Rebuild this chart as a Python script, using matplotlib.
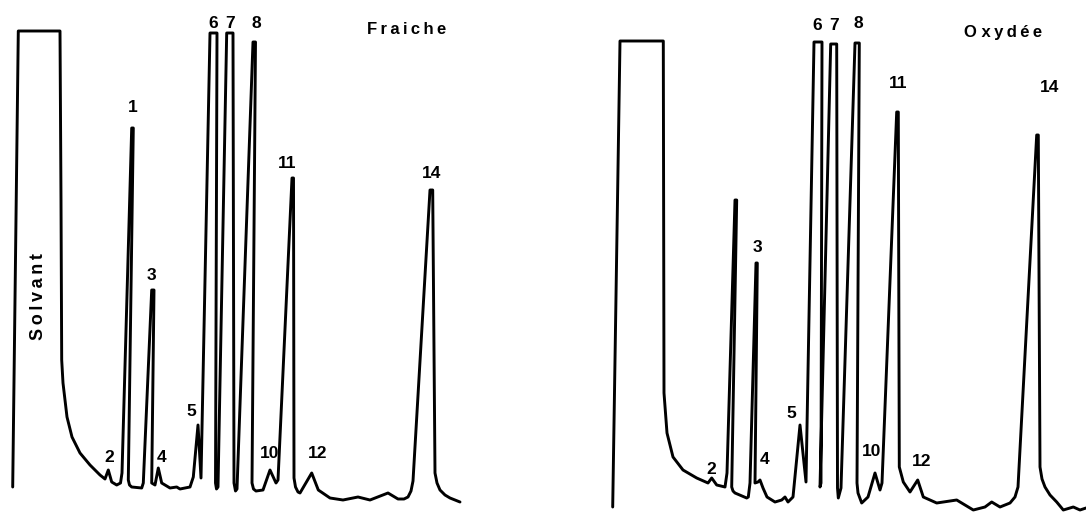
import matplotlib
matplotlib.use("Agg")
import matplotlib.pyplot as plt

# Chromatogram traces: retention position, detector response
fresh_t = [12.7, 18.3, 60, 61, 61.7, 63, 67, 72, 80, 90, 100, 105, 108.3, 111.7,
           116.7, 120.5, 122, 131.7, 133.3, 128.3, 129.5, 131.7, 141.7, 143.3, 151.7, 154,
           151.7, 155, 158.3, 161.7, 170, 176.7, 180, 190, 193.3, 198, 201,
           210, 217, 215.5, 216.5, 218, 226.7, 233, 234, 235.5, 237, 253, 255.5, 252, 253.5, 256, 263,
           270, 276, 278, 292, 293.5, 294, 295.5, 298, 300, 311.7, 318.3, 330, 343,
           358, 370, 388, 398, 404, 408, 411, 413, 430, 432.7, 435, 437, 440, 445, 450, 460]
fresh_r = [26, 482, 482, 313, 153, 130, 96, 76, 60, 48, 38, 34, 43, 31,
           28, 30, 40, 385, 385, 33, 28, 26, 25, 30, 223, 223,
           30, 28, 45, 30, 25, 26, 24, 26, 36, 88, 35,
           480, 480, 30, 24, 26, 480, 480, 30, 22, 24, 471, 471, 30, 24, 22, 23,
           43, 30, 33, 335, 335, 35, 26, 21, 20, 40, 23, 15, 13,
           16, 13, 20, 14, 14, 16, 22, 32, 323, 323, 40, 30, 23, 18, 15, 11]

oxid_t = [612.7, 620, 663.3, 664, 667, 673, 683, 696.7, 708, 711.7, 716.7, 725,
          727, 735, 736.7, 731.7, 733, 735, 746.7, 748.3, 750, 756, 757.3, 755, 758, 760, 763,
          767, 775, 781.7, 785, 788, 793, 800, 806, 814, 822, 821, 820,
          830.7, 836.7, 837.5, 838.3, 841, 855, 859.3, 857, 858, 861.7, 868, 875, 880, 882,
          896.7, 898.3, 899.3, 903.3, 910, 917.7, 923.3, 936.7, 956.7, 973.3,
          985, 991.7, 1000, 1010, 1015, 1018, 1036.7, 1038.3, 1040, 1042, 1045, 1050, 1056.7, 1063.3,
          1073.3, 1080, 1086]
oxid_r = [6, 472, 472, 120, 80, 56, 43, 35, 30, 35, 28, 26,
          40, 313, 313, 26, 22, 20, 15, 16, 30, 250, 250, 30, 31, 33, 25,
          16, 11, 13, 16, 11, 16, 88, 31, 471, 471, 30, 26,
          469, 469, 25, 15, 25, 470, 470, 30, 20, 10, 16, 40, 23, 30,
          401, 401, 46, 31, 21, 33, 16, 10, 13, 3,
          6, 11, 6, 10, 16, 26, 378, 378, 46, 34, 26, 18, 11, 3,
          6, 3, 5]

# peak numbers and where they are written
fresh_labels = ["1", "2", "3", "4", "5", "6", "7", "8", "10", "11", "12", "14"]
fresh_lab_t = [133, 109.3, 151.7, 161.7, 191.7, 213.3, 230, 256, 270, 287.3, 317.3, 431.7]
fresh_lab_r = [405, 56, 237, 56, 101, 490, 490, 490, 60, 350, 60, 340]

oxid_labels = ["2", "3", "4", "5", "6", "7", "8", "10", "11", "12", "14"]
oxid_lab_t = [711.7, 757.7, 765, 791.7, 816.7, 834, 858.3, 871.7, 898.3, 921.7, 1050]
oxid_lab_r = [43, 265, 53, 100, 488, 488, 489, 61, 430, 51, 425]

fams = ["Liberation Sans", "DejaVu Sans"]
sp = "\u2009"

fig = plt.figure(figsize=(10.86, 5.13), dpi=100)
ax1 = fig.add_axes([0, 0, 0.5, 1])
ax2 = fig.add_axes([0.5, 0, 0.5, 1])

for ax, t, r, lo, hi in [(ax1, fresh_t, fresh_r, 0, 543), (ax2, oxid_t, oxid_r, 543, 1086)]:
    ax.plot(t, r, color="black", lw=2.1, solid_joinstyle="round", solid_capstyle="round")
    ax.set_xlim(lo, hi)
    ax.set_ylim(0, 513)
    ax.axis("off")

for lab, x, y in zip(fresh_labels, fresh_lab_t, fresh_lab_r):
    ax1.text(x, y, lab, ha="center", va="center", fontsize=12.5, fontweight="bold", family=fams)
for lab, x, y in zip(oxid_labels, oxid_lab_t, oxid_lab_r):
    ax2.text(x, y, lab, ha="center", va="center", fontsize=12.5, fontweight="bold", family=fams)

ax1.text(38.3, 216, sp.join("Solvant"), rotation=90, ha="center", va="center",
         fontsize=13, fontweight="bold", family=fams)
ax1.text(406.7, 483, sp.join("Fraiche"), ha="center", va="center",
         fontsize=12, fontweight="bold", family=fams)
ax2.text(1003.3, 481, "O " + sp.join("xydée"), ha="center", va="center",
         fontsize=12, fontweight="bold", family=fams)

fig.savefig("out.png", dpi=100)
